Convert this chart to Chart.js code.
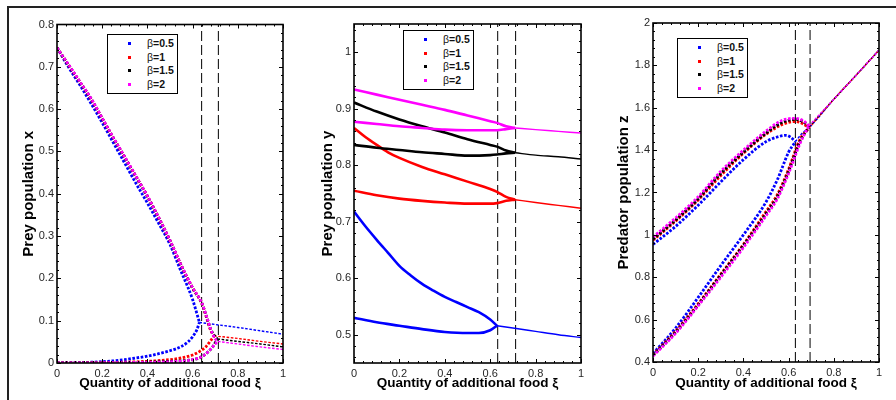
<!DOCTYPE html>
<html>
<head>
<meta charset="utf-8">
<script src="https://cdn.jsdelivr.net/npm/chart.js@4.4.1/dist/chart.umd.min.js"></script>
<style>
body{margin:0;background:#fff;font-family:"Liberation Sans",Arial,sans-serif;}
#wrap{position:relative;width:896px;height:400px;overflow:hidden;}
#wrap canvas{position:absolute;left:0;top:0;}
.frame{position:absolute;left:7px;top:6px;width:900px;height:400px;border-top:2px solid #222;border-left:2px solid #222;}
.leg{position:absolute;width:69px;border:1.5px solid #000;background:#fff;font-size:10.5px;font-weight:bold;color:#111;}
.leg div{position:relative;height:13.7px;line-height:13.7px;padding-left:39px;}
.leg div span.m{position:absolute;left:20px;top:5px;width:3px;height:3px;}
.leg .b{font-weight:normal;}
</style>
</head>
<body>
<div id="wrap">
  <div class="frame"></div>
  <canvas id="c1" width="896" height="400"></canvas>
  <canvas id="c2" width="896" height="400"></canvas>
  <canvas id="c3" width="896" height="400"></canvas>
</div>
<script>
// legend labels and colours
const betaLabels = ['0.5', '1', '1.5', '2'];
const betaColors = ['#0000ff', '#ff0000', '#000000', '#ff00ff'];

// tick values
const xiTicks = [0, 0.2, 0.4, 0.6, 0.8, 1];
const preyXTicks = [0, 0.1, 0.2, 0.3, 0.4, 0.5, 0.6, 0.7, 0.8];
const preyYTicks = [0.5, 0.6, 0.7, 0.8, 0.9, 1];
const predZTicks = [0.4, 0.6, 0.8, 1, 1.2, 1.4, 1.6, 1.8, 2];

// dashed vertical lines (xi)
const hopfX = [0.64, 0.714];
const hopfY = [0.633, 0.712];
const hopfZ = [0.63, 0.695];

// ---- prey x : [xi, value] ----
const x_b05_up = [[0,0.745],[0.05,0.70],[0.1,0.658],[0.15,0.614],[0.2,0.568],[0.25,0.52],[0.3,0.472],[0.35,0.424],[0.4,0.378],[0.45,0.33],[0.5,0.28],[0.55,0.215],[0.58,0.178],[0.6,0.15],[0.62,0.115],[0.63,0.096]];
const x_b05_low = [[0,0],[0.1,0.001],[0.2,0.003],[0.3,0.008],[0.35,0.012],[0.4,0.016],[0.45,0.022],[0.5,0.029],[0.55,0.039],[0.58,0.05],[0.6,0.062],[0.62,0.08],[0.63,0.096]];
const x_b05_eq = [[0.63,0.096],[0.7,0.091],[0.8,0.084],[0.9,0.076],[1,0.068]];
const x_b1_up = [[0,0.745],[0.05,0.705],[0.1,0.665],[0.15,0.624],[0.2,0.578],[0.25,0.531],[0.3,0.486],[0.35,0.44],[0.4,0.394],[0.45,0.343],[0.5,0.289],[0.55,0.23],[0.6,0.177],[0.64,0.142],[0.66,0.11],[0.68,0.077],[0.695,0.064]];
const x_b1_low = [[0,0],[0.2,0.001],[0.3,0.002],[0.4,0.004],[0.5,0.008],[0.55,0.012],[0.6,0.019],[0.63,0.027],[0.66,0.039],[0.68,0.053],[0.695,0.064]];
const x_b1_eq = [[0.695,0.064],[0.8,0.058],[0.9,0.051],[1,0.045]];
const x_b15_up = [[0,0.745],[0.05,0.705],[0.1,0.665],[0.15,0.625],[0.2,0.578],[0.25,0.531],[0.3,0.486],[0.35,0.44],[0.4,0.394],[0.45,0.343],[0.5,0.289],[0.55,0.23],[0.6,0.177],[0.64,0.142],[0.66,0.112],[0.68,0.08],[0.7,0.062],[0.71,0.057]];
const x_b15_low = [[0,0],[0.3,0.001],[0.4,0.002],[0.5,0.004],[0.57,0.006],[0.63,0.012],[0.67,0.027],[0.69,0.039],[0.71,0.057]];
const x_b15_eq = [[0.71,0.057],[0.8,0.051],[0.9,0.045],[1,0.038]];
const x_b2_up = [[0,0.745],[0.05,0.706],[0.1,0.666],[0.15,0.626],[0.2,0.579],[0.25,0.532],[0.3,0.487],[0.35,0.441],[0.4,0.395],[0.45,0.344],[0.5,0.29],[0.55,0.231],[0.6,0.178],[0.64,0.143],[0.66,0.113],[0.68,0.08],[0.7,0.057],[0.712,0.051]];
const x_b2_low = [[0,0],[0.3,0.001],[0.5,0.003],[0.6,0.008],[0.65,0.018],[0.68,0.033],[0.7,0.045],[0.712,0.051]];
const x_b2_eq = [[0.712,0.051],[0.8,0.045],[0.9,0.038],[1,0.032]];

// ---- prey y ----
const y_b05_up = [[0,0.718],[0.05,0.692],[0.1,0.668],[0.15,0.645],[0.2,0.622],[0.25,0.605],[0.3,0.59],[0.35,0.578],[0.4,0.567],[0.45,0.558],[0.5,0.549],[0.55,0.54],[0.6,0.527],[0.63,0.516]];
const y_b05_low = [[0,0.53],[0.1,0.522],[0.2,0.516],[0.3,0.51],[0.4,0.505],[0.5,0.503],[0.55,0.503],[0.6,0.508],[0.63,0.516]];
const y_b05_eq = [[0.63,0.516],[0.7,0.512],[0.8,0.506],[0.9,0.5],[1,0.495]];
const y_b1_up = [[0,0.866],[0.05,0.85],[0.1,0.836],[0.15,0.823],[0.2,0.813],[0.3,0.797],[0.4,0.784],[0.5,0.771],[0.6,0.758],[0.63,0.753],[0.67,0.744],[0.71,0.739]];
const y_b1_low = [[0,0.755],[0.1,0.747],[0.2,0.741],[0.3,0.737],[0.4,0.734],[0.5,0.732],[0.6,0.732],[0.63,0.733],[0.67,0.737],[0.71,0.739]];
const y_b1_eq = [[0.71,0.739],[0.8,0.734],[0.9,0.729],[1,0.724]];
const y_b15_up = [[0,0.911],[0.1,0.895],[0.2,0.881],[0.3,0.869],[0.4,0.858],[0.5,0.846],[0.6,0.836],[0.63,0.833],[0.67,0.826],[0.71,0.822]];
const y_b15_low = [[0,0.836],[0.1,0.831],[0.2,0.827],[0.3,0.823],[0.4,0.82],[0.5,0.817],[0.6,0.818],[0.63,0.819],[0.67,0.821],[0.71,0.822]];
const y_b15_eq = [[0.71,0.822],[0.8,0.818],[0.9,0.815],[1,0.811]];
const y_b2_up = [[0,0.934],[0.1,0.925],[0.2,0.916],[0.3,0.907],[0.4,0.898],[0.5,0.888],[0.6,0.878],[0.63,0.875],[0.67,0.869],[0.71,0.866]];
const y_b2_low = [[0,0.877],[0.1,0.873],[0.2,0.869],[0.3,0.866],[0.4,0.863],[0.5,0.862],[0.6,0.862],[0.63,0.862],[0.67,0.864],[0.71,0.866]];
const y_b2_eq = [[0.71,0.866],[0.8,0.863],[0.9,0.86],[1,0.857]];

// ---- predator z ----
const z_b05_up = [[0,0.955],[0.1,1.04],[0.2,1.14],[0.3,1.25],[0.4,1.355],[0.5,1.44],[0.55,1.462],[0.59,1.47],[0.61,1.46],[0.63,1.44]];
const z_b05_low = [[0,0.44],[0.1,0.56],[0.2,0.705],[0.3,0.855],[0.4,1.0],[0.5,1.155],[0.55,1.26],[0.6,1.39],[0.63,1.44]];
const z_b05_eq = [[0.63,1.44],[0.66,1.48],[0.69,1.505],[0.8,1.64],[0.9,1.755],[1,1.872]];
const z_b1_up = [[0,0.975],[0.1,1.065],[0.2,1.165],[0.3,1.28],[0.4,1.385],[0.5,1.475],[0.57,1.52],[0.63,1.535],[0.67,1.52],[0.69,1.503]];
const z_b1_low = [[0,0.434],[0.1,0.545],[0.2,0.675],[0.3,0.815],[0.4,0.955],[0.5,1.11],[0.55,1.19],[0.6,1.31],[0.65,1.45],[0.69,1.503]];
const z_b1_eq = [[0.69,1.503],[0.8,1.64],[0.9,1.755],[1,1.872]];
const z_b15_up = [[0,0.98],[0.1,1.07],[0.2,1.17],[0.3,1.29],[0.4,1.39],[0.5,1.48],[0.57,1.53],[0.63,1.545],[0.67,1.53],[0.69,1.51]];
const z_b15_low = [[0,0.432],[0.1,0.54],[0.2,0.67],[0.3,0.81],[0.4,0.95],[0.5,1.10],[0.55,1.18],[0.6,1.3],[0.65,1.44],[0.69,1.51]];
const z_b15_eq = [[0.69,1.51],[0.8,1.64],[0.9,1.755],[1,1.872]];
const z_b2_up = [[0,0.99],[0.1,1.08],[0.2,1.18],[0.3,1.3],[0.4,1.4],[0.5,1.49],[0.57,1.54],[0.63,1.55],[0.67,1.535],[0.69,1.515]];
const z_b2_low = [[0,0.428],[0.1,0.535],[0.2,0.665],[0.3,0.8],[0.4,0.94],[0.5,1.09],[0.55,1.17],[0.6,1.29],[0.65,1.43],[0.69,1.515]];
const z_b2_eq = [[0.69,1.515],[0.8,1.64],[0.9,1.755],[1,1.872]];

const xiTitle = 'Quantity of additional food \u03be';

// inward ticks + box, matlab style
const boxPlugin = {
  id: 'box',
  afterDatasetsDraw(chart) {
    const ctx = chart.ctx, a = chart.chartArea;
    const xs = chart.scales.x, ys = chart.scales.y;
    ctx.save();
    ctx.strokeStyle = '#000';
    ctx.lineWidth = 1;
    const xt = xs.ticks.map(t => t.value), yt = ys.ticks.map(t => t.value);
    function minors(arr, lo, hi) {
      const out = [];
      const st = (arr[1] - arr[0]) / 5;
      for (let v = arr[0] - 5 * st; v <= hi + 1e-9; v += st) if (v >= lo - 1e-9) out.push(v);
      return out;
    }
    ctx.beginPath();
    minors(xt, xs.min, xs.max).forEach(v => {
      const p = Math.round(xs.getPixelForValue(v)) + 0.5;
      const L = xt.some(t => Math.abs(t - v) < 1e-6) ? 4 : 2;
      ctx.moveTo(p, a.bottom); ctx.lineTo(p, a.bottom - L);
      ctx.moveTo(p, a.top); ctx.lineTo(p, a.top + L);
    });
    minors(yt, ys.min, ys.max).forEach(v => {
      const p = Math.round(ys.getPixelForValue(v)) + 0.5;
      const L = yt.some(t => Math.abs(t - v) < 1e-6) ? 4 : 2;
      ctx.moveTo(a.left, p); ctx.lineTo(a.left + L, p);
      ctx.moveTo(a.right, p); ctx.lineTo(a.right - L, p);
    });
    ctx.stroke();
    ctx.lineWidth = 1.6;
    ctx.strokeRect(a.left, a.top, a.right - a.left, a.bottom - a.top);
    ctx.restore();
  }
};

function pts(arr) { return arr.map(p => ({x: p[0], y: p[1]})); }
function fmt(v) { return String(+(+v).toFixed(2)); }

function makePanel(id, cfg) {
  const ds = [];
  cfg.series.forEach((s, i) => {
    const order = 3 - i;
    [[s.up, cfg.lw], [s.low, cfg.lw], [s.eq, 1.4]].forEach(([d, w]) => {
      ds.push({
        data: pts(d), showLine: true, borderColor: betaColors[i], backgroundColor: betaColors[i],
        borderWidth: w, pointRadius: 0, borderDash: cfg.dash, cubicInterpolationMode: 'monotone', order: order
      });
    });
  });
  cfg.hopf.forEach(h => {
    ds.push({
      data: [{x: h, y: cfg.yTicksMin}, {x: h, y: cfg.yTicksMax}], showLine: true, borderColor: '#000',
      borderWidth: 1, borderDash: [10, 4], pointRadius: 0, order: 5
    });
  });
  new Chart(document.getElementById(id), {
    type: 'scatter',
    data: {datasets: ds},
    options: {
      responsive: false, animation: false,
      layout: {padding: {left: cfg.padLeft, top: cfg.top, right: 896 - cfg.right, bottom: 5}},
      plugins: {legend: {display: false}, tooltip: {enabled: false}},
      scales: {
        x: {
          type: 'linear', min: 0, max: 1,
          afterBuildTicks: s => { s.ticks = xiTicks.map(v => ({value: v})); },
          afterFit: s => { s.height = cfg.bottomH; },
          grid: {display: false, drawTicks: false}, border: {display: false},
          ticks: {padding: 4, color: '#262626', font: {family: 'Liberation Sans', size: 11}, maxRotation: 0, callback: fmt},
          title: {display: true, text: xiTitle, color: '#000', font: {family: 'Liberation Sans', size: 13.5, weight: 'bold'}, padding: {top: 0, bottom: 4}}
        },
        y: {
          type: 'linear', min: cfg.yTicksMin, max: cfg.yTicksMax,
          afterBuildTicks: s => { s.ticks = cfg.yTicks.map(v => ({value: v})); },
          afterFit: s => { s.width = cfg.left - cfg.padLeft; },
          grid: {display: false, drawTicks: false}, border: {display: false},
          ticks: {padding: 3, color: '#262626', font: {family: 'Liberation Sans', size: 11}, callback: fmt},
          title: {display: true, text: cfg.yTitle, color: '#000', font: {family: 'Liberation Sans', size: 15, weight: 'bold'}, padding: {top: 4, bottom: 0}}
        }
      }
    },
    plugins: [boxPlugin]
  });
}

makePanel('c1', {
  series: [
    {up: x_b05_up, low: x_b05_low, eq: x_b05_eq},
    {up: x_b1_up, low: x_b1_low, eq: x_b1_eq},
    {up: x_b15_up, low: x_b15_low, eq: x_b15_eq},
    {up: x_b2_up, low: x_b2_low, eq: x_b2_eq}
  ],
  hopf: hopfX, yTicks: preyXTicks, yTicksMin: 0, yTicksMax: 0.8, yTitle: 'Prey population x',
  dash: [2.6, 1.6], lw: 2.8, padLeft: 15.5, left: 57, right: 283, top: 24.5, bottomH: 32
});
makePanel('c2', {
  series: [
    {up: y_b05_up, low: y_b05_low, eq: y_b05_eq},
    {up: y_b1_up, low: y_b1_low, eq: y_b1_eq},
    {up: y_b15_up, low: y_b15_low, eq: y_b15_eq},
    {up: y_b2_up, low: y_b2_low, eq: y_b2_eq}
  ],
  hopf: hopfY, yTicks: preyYTicks, yTicksMin: 0.45, yTicksMax: 1.05, yTitle: 'Prey population y',
  dash: [], lw: 2.6, padLeft: 315, left: 354, right: 581, top: 24, bottomH: 32
});
makePanel('c3', {
  series: [
    {up: z_b05_up, low: z_b05_low, eq: z_b05_eq},
    {up: z_b1_up, low: z_b1_low, eq: z_b1_eq},
    {up: z_b15_up, low: z_b15_low, eq: z_b15_eq},
    {up: z_b2_up, low: z_b2_low, eq: z_b2_eq}
  ],
  hopf: hopfZ, yTicks: predZTicks, yTicksMin: 0.4, yTicksMax: 2, yTitle: 'Predator population z',
  dash: [2.6, 1.6], lw: 2.8, padLeft: 611, left: 653, right: 879, top: 23, bottomH: 33
});

// legends
function legend(left, top) {
  const box = document.createElement('div');
  box.className = 'leg';
  box.style.left = left + 'px';
  box.style.top = top + 'px';
  box.style.padding = '2px 0 1px 0';
  betaLabels.forEach((b, i) => {
    const row = document.createElement('div');
    row.innerHTML = '<span class="m" style="background:' + betaColors[i] + '"></span><span class="b">\u03b2</span>=' + b;
    box.appendChild(row);
  });
  document.getElementById('wrap').appendChild(box);
}
legend(107, 34);
legend(403, 30);
legend(677, 38);
</script>
</body>
</html>
